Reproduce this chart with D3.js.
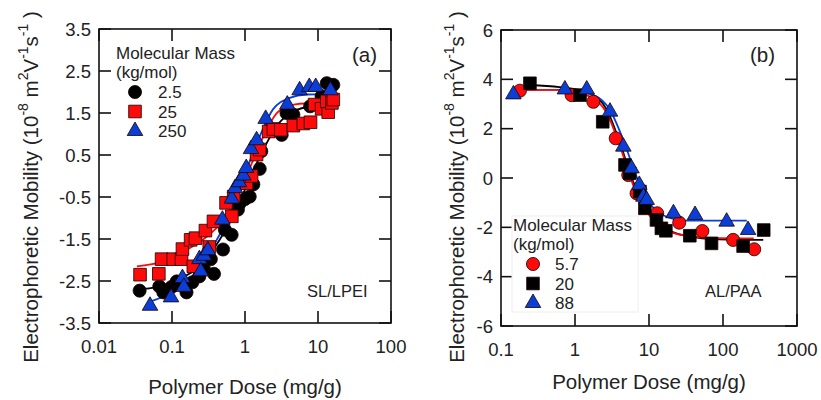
<!DOCTYPE html>
<html>
<head>
<meta charset="utf-8">
<script src="https://cdn.jsdelivr.net/npm/d3@7"></script>
<style>
  body { margin: 0; background: #fff; }
  svg text { font-family: "Liberation Sans", Arial, sans-serif; fill: #222; }
</style>
</head>
<body>
<svg id="chart" width="821" height="400"></svg>
<script>
// ---- panel (a) SL/LPEI ----
const aLegend = ["2.5", "25", "250"];
const aDose1 = [0.036, 0.067, 0.076, 0.099, 0.116, 0.158, 0.19, 0.237, 0.274, 0.34, 0.376, 0.50, 0.53, 0.656, 0.80, 0.84, 1.0, 1.16, 1.3, 1.59, 1.67, 2.2, 3.18, 3.7, 4.6, 7.8, 11.2, 13.2, 16.2];
const aMob1  = [-2.73, -2.63, -2.77, -2.64, -2.51, -2.77, -2.53, -2.39, -2.21, -1.98, -2.33, -1.75, -1.28, -1.40, -0.80, -0.66, -0.55, -0.49, -0.2, 0.17, 0.59, 1.1, 0.98, 1.5, 1.46, 1.66, 1.9, 2.21, 2.17];
const aDose2 = [0.0365, 0.066, 0.072, 0.104, 0.135, 0.139, 0.18, 0.21, 0.196, 0.287, 0.324, 0.37, 0.55, 0.66, 0.70, 1.05, 1.23, 1.44, 1.59, 2.11, 2.45, 3.1, 4.6, 6.3, 7.9, 9.0, 11.2, 13.8, 13.2, 15.5, 16.2];
const aMob2  = [-2.35, -2.33, -1.98, -1.98, -1.98, -1.74, -1.52, -1.48, -2.15, -1.30, -1.69, -1.08, -0.64, -0.96, -0.49, -0.17, 0.0, 0.51, 0.63, 1.06, 1.12, 1.10, 1.20, 1.25, 1.28, 1.70, 1.60, 1.52, 1.78, 1.74, 1.82];
const aDose3 = [0.05, 0.097, 0.139, 0.145, 0.237, 0.247, 0.274, 0.31, 0.49, 0.66, 0.73, 0.83, 0.95, 1.04, 1.21, 1.44, 1.92, 3.8, 5.6, 7.6, 9.3, 14.8];
const aMob3  = [-3.09, -2.89, -2.43, -2.64, -1.98, -2.27, -1.90, -1.77, -1.04, -0.54, -0.29, -0.15, 0.01, 0.19, 0.64, 0.85, 1.36, 1.70, 2.04, 2.12, 2.12, 2.04];
// fitted curves
const aFitDose1 = [0.034, 0.063, 0.115, 0.24, 0.45, 0.76, 1.14, 1.78, 2.7, 4.6, 9.6, 16.6];
const aFitMob1  = [-2.70, -2.64, -2.47, -2.15, -1.52, -0.80, -0.09, 0.63, 1.18, 1.54, 1.68, 1.72];
const aFitDose2 = [0.033, 0.07, 0.143, 0.3, 0.56, 0.85, 1.3, 1.97, 2.9, 5.6, 17.8];
const aFitMob2  = [-2.15, -2.05, -1.80, -1.44, -0.96, -0.37, 0.39, 1.10, 1.54, 1.72, 1.76];
const aFitDose3 = [0.05, 0.104, 0.217, 0.41, 0.70, 1.05, 1.59, 2.4, 4.1, 6.9, 16.2];
const aFitMob3  = [-2.99, -2.75, -2.27, -1.52, -0.72, 0.15, 0.94, 1.58, 1.86, 1.94, 1.95];
const aYTicks = [3.5, 2.5, 1.5, 0.5, -0.5, -1.5, -2.5, -3.5];
const aXTicks = [0.01, 0.1, 1, 10, 100];

// ---- panel (b) AL/PAA ----
const bLegend = ["5.7", "20", "88"];
const bDose1 = [0.18, 0.90, 1.77, 3.55, 5.25, 6.8, 12.9, 25.6, 52.6, 137, 264];
const bMob1  = [3.54, 3.36, 3.09, 1.61, 0.12, -0.62, -1.43, -1.81, -2.15, -2.51, -2.89];
const bDose2 = [0.246, 1.17, 2.37, 4.74, 5.5, 7.55, 8.8, 12.6, 14.7, 16.9, 35.6, 70, 187, 355];
const bMob2  = [3.84, 3.36, 2.28, 0.53, 0.19, -0.55, -1.23, -1.70, -2.04, -2.14, -2.34, -2.65, -2.76, -2.11];
const bDose3 = [0.147, 0.73, 1.44, 2.97, 4.5, 5.8, 7.4, 8.4, 9.3, 21.4, 41.9, 112, 218];
const bMob3  = [3.39, 3.59, 3.59, 2.69, 1.27, 0.39, -0.28, -0.76, -0.89, -1.43, -1.50, -1.77, -2.11];
const bFitDose1 = [0.14, 0.62, 1.6, 2.7, 4.07, 6.1, 9.3, 15.6, 31.8, 90, 260];
const bFitMob1  = [3.57, 3.57, 3.30, 2.62, 1.27, -0.28, -1.36, -2.04, -2.35, -2.44, -2.45];
const bFitDose2 = [0.24, 0.62, 1.44, 2.7, 4.07, 6.1, 9.3, 15.6, 31.8, 90, 350];
const bFitMob2  = [3.77, 3.68, 3.50, 2.76, 1.41, -0.15, -1.23, -1.97, -2.35, -2.49, -2.51];
const bFitDose3 = [0.14, 0.77, 1.77, 2.97, 4.5, 6.8, 10.3, 17.3, 31.8, 210];
const bFitMob3  = [3.57, 3.57, 3.36, 2.76, 1.54, 0.05, -1.03, -1.57, -1.73, -1.73];
const bYTicks = [6, 4, 2, 0, -2, -4, -6];
const bXTicks = [0.1, 1, 10, 100, 1000];

const svg = d3.select("#chart");
const zip = (xs, ys) => xs.map((x, i) => [x, ys[i]]);

const RED = "#ff0a0a", BLUE = "#0a3ed6", BLACK = "#000";
const sym = {
  circle: d3.symbol().type(d3.symbolCircle).size(135)(),
  square: d3.symbol().type(d3.symbolSquare).size(160)(),
  triangle: d3.symbol().type(d3.symbolTriangle).size(105)()
};

function drawPanel(p) {
  const g = svg.append("g");
  const x = d3.scaleLog().domain(p.xDomain).range([p.left, p.right]);
  const y = d3.scaleLinear().domain(p.yDomain).range([p.bottom, p.top]);
  const tl = 12;

  // frame
  g.append("rect")
    .attr("x", p.left).attr("y", p.top)
    .attr("width", p.right - p.left).attr("height", p.bottom - p.top)
    .attr("fill", "none").attr("stroke", "#111").attr("stroke-width", 1.6);

  // inward ticks on all four sides
  const tk = g.append("g").attr("stroke", "#111").attr("stroke-width", 1.6);
  p.xTicks.forEach(t => {
    tk.append("line").attr("x1", x(t)).attr("x2", x(t)).attr("y1", p.bottom).attr("y2", p.bottom - tl);
    tk.append("line").attr("x1", x(t)).attr("x2", x(t)).attr("y1", p.top).attr("y2", p.top + tl);
  });
  p.yTicks.forEach(t => {
    tk.append("line").attr("x1", p.left).attr("x2", p.left + tl).attr("y1", y(t)).attr("y2", y(t));
    tk.append("line").attr("x1", p.right).attr("x2", p.right - tl).attr("y1", y(t)).attr("y2", y(t));
  });

  // tick labels
  g.append("g").selectAll("text").data(p.yTicks).join("text")
    .attr("x", p.left - 8).attr("y", d => y(d) + 6.5)
    .attr("text-anchor", "end").attr("font-size", 18.5)
    .text(d => d);
  g.append("g").selectAll("text").data(p.xTicks).join("text")
    .attr("x", d => x(d)).attr("y", p.bottom + 30)
    .attr("text-anchor", "middle").attr("font-size", 18.5)
    .text(d => d);

  // axis titles
  g.append("text")
    .attr("x", (p.left + p.right) / 2).attr("y", p.xTitleY)
    .attr("text-anchor", "middle").attr("font-size", 20.5)
    .text("Polymer Dose (mg/g)");
  const yt = g.append("text")
    .attr("transform", `translate(${p.yTitleX},187) rotate(-90)`)
    .attr("text-anchor", "middle").attr("font-size", 20.5);
  yt.append("tspan").text("Electrophoretic Mobility (10");
  yt.append("tspan").attr("dy", -10).attr("font-size", 14).text("-8");
  yt.append("tspan").attr("dy", 10).text(" m");
  yt.append("tspan").attr("dy", -10).attr("font-size", 14).text("2");
  yt.append("tspan").attr("dy", 10).text("V");
  yt.append("tspan").attr("dy", -10).attr("font-size", 14).text("-1");
  yt.append("tspan").attr("dy", 10).text("s");
  yt.append("tspan").attr("dy", -10).attr("font-size", 14).text("-1");
  yt.append("tspan").attr("dy", 10).text(" )");

  // panel label and system name
  g.append("text").attr("x", p.tagX).attr("y", 62).attr("font-size", 20.5).text(p.tag);
  g.append("text").attr("x", p.nameX).attr("y", 297).attr("font-size", 16.5).text(p.name);

  // fitted lines
  const line = d3.line().x(d => x(d[0])).y(d => y(d[1])).curve(d3.curveMonotoneX);
  p.fits.forEach(f => {
    g.append("path").datum(f.pts).attr("d", line)
      .attr("fill", "none").attr("stroke", f.color).attr("stroke-width", 1.8);
  });

  // markers
  p.series.forEach(s => {
    g.append("g").selectAll("path").data(s.pts).join("path")
      .attr("transform", d => `translate(${x(d[0])},${y(d[1])})`)
      .attr("d", sym[s.shape])
      .attr("fill", s.color).attr("stroke", "#1a0000").attr("stroke-width", 0.8);
  });

  // legend
  const L = p.legend;
  if (L.box) {
    g.append("rect").attr("x", L.box[0]).attr("y", L.box[1]).attr("width", L.box[2]).attr("height", L.box[3])
      .attr("fill", "#fff").attr("stroke", "#eee");
  }
  g.append("text").attr("x", L.x).attr("y", L.y).attr("font-size", 17).text("Molecular Mass");
  g.append("text").attr("x", L.x).attr("y", L.y + 19).attr("font-size", 17).text("(kg/mol)");
  p.series.forEach((s, i) => {
    const ry = L.y + 39 + i * 19.5;
    g.append("path").attr("transform", `translate(${L.mx},${ry - 6})`)
      .attr("d", sym[s.shape]).attr("fill", s.color).attr("stroke", "#1a0000").attr("stroke-width", 0.8);
    g.append("text").attr("x", L.tx).attr("y", ry).attr("font-size", 17).text(s.label);
  });
}

drawPanel({
  left: 99, right: 391, top: 29, bottom: 323,
  xDomain: [0.01, 100], yDomain: [-3.5, 3.5],
  xTicks: aXTicks, yTicks: aYTicks,
  xTitleY: 394, yTitleX: 38,
  tag: "(a)", tagX: 352, name: "SL/LPEI", nameX: 307,
  fits: [
    { color: BLACK, pts: zip(aFitDose1, aFitMob1) },
    { color: RED, pts: zip(aFitDose2, aFitMob2) },
    { color: BLUE, pts: zip(aFitDose3, aFitMob3) }
  ],
  series: [
    { label: aLegend[0], shape: "circle", color: BLACK, pts: zip(aDose1, aMob1) },
    { label: aLegend[1], shape: "square", color: RED, pts: zip(aDose2, aMob2) },
    { label: aLegend[2], shape: "triangle", color: BLUE, pts: zip(aDose3, aMob3) }
  ],
  legend: { x: 116, y: 59, mx: 135, tx: 158 }
});

drawPanel({
  left: 501, right: 797, top: 30, bottom: 326,
  xDomain: [0.1, 1000], yDomain: [-6, 6],
  xTicks: bXTicks, yTicks: bYTicks,
  xTitleY: 389, yTitleX: 464,
  tag: "(b)", tagX: 750, name: "AL/PAA", nameX: 705,
  fits: [
    { color: BLACK, pts: zip(bFitDose2, bFitMob2) },
    { color: BLUE, pts: zip(bFitDose3, bFitMob3) },
    { color: RED, pts: zip(bFitDose1, bFitMob1) }
  ],
  series: [
    { label: bLegend[0], shape: "circle", color: RED, pts: zip(bDose1, bMob1) },
    { label: bLegend[1], shape: "square", color: BLACK, pts: zip(bDose2, bMob2) },
    { label: bLegend[2], shape: "triangle", color: BLUE, pts: zip(bDose3, bMob3) }
  ],
  legend: { x: 513, y: 231, mx: 533, tx: 555, box: [512, 216, 126, 96] }
});
</script>
</body>
</html>
